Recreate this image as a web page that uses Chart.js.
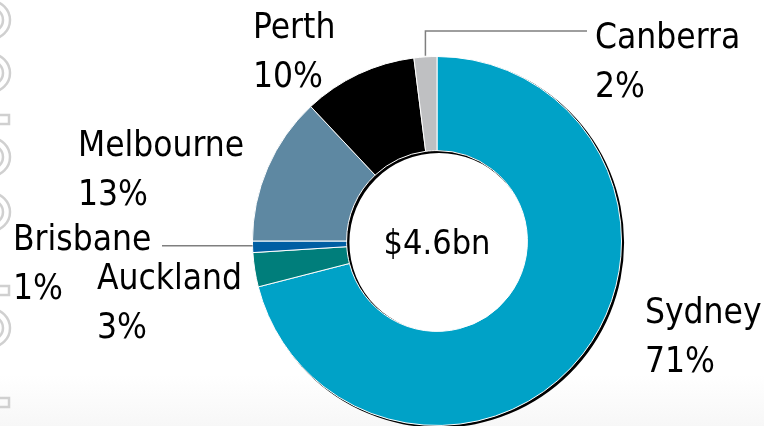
<!DOCTYPE html>
<html><head><meta charset="utf-8">
<script src="https://cdn.jsdelivr.net/npm/chart.js@4/dist/chart.umd.min.js"></script>
<style>
html,body{margin:0;padding:0;width:764px;height:426px;overflow:hidden;
background:linear-gradient(#ffffff 0px,#ffffff 375px,#f7f7f7 426px);}
canvas{display:block}
</style>
</head><body>
<canvas id="c" width="764" height="426"></canvas>
<script>
// ---- data ----
const categories = ['Sydney', 'Auckland', 'Brisbane', 'Melbourne', 'Perth', 'Canberra'];
const shares = [71, 3, 1, 13, 10, 2];
const totalLabel = '$4.6bn';
const colors = ['#00A2C7', '#007E7B', '#005EA3', '#5E88A2', '#000000', '#BFC0C2'];

// ---- label layout (left x, first-line baseline) ----
const labelLayout = {
  Sydney: [645, 323],
  Auckland: [97, 289],
  Brisbane: [13, 250],
  Melbourne: [78, 156],
  Perth: [253, 38],
  Canberra: [595, 48]
};
const FONT = '"DejaVu Sans Condensed", "DejaVu Sans", sans-serif';
const FONT_SIZE = 35;
const LINE_GAP = 49;

const decoPlugin = {
  id: 'deco',
  beforeDraw(chart) {
    const ctx = chart.ctx;
    ctx.save();
    ctx.strokeStyle = '#d0d0d0';
    ctx.lineWidth = 2.5;
    [20, 73, 157, 212, 328].forEach(cy => {
      [19, 12, 5].forEach(r => {
        ctx.beginPath(); ctx.arc(-9, cy, r, 0, Math.PI * 2); ctx.stroke();
      });
    });
    [115, 286, 398].forEach(ry => { ctx.strokeRect(-5, ry, 14, 9); });
    ctx.restore();
  }
};

const shadowPlugin = {
  id: 'ringShadow',
  beforeDatasetsDraw(chart) {
    const a = chart.getDatasetMeta(0).data[0];
    if (!a) return;
    const ctx = chart.ctx;
    ctx.save();
    ctx.fillStyle = '#000';
    ctx.beginPath();
    ctx.arc(a.x + 2, a.y + 1.6, a.outerRadius + 0.6, 0, Math.PI * 2);
    ctx.arc(a.x + 2, a.y + 1.6, a.innerRadius - 0.8, 0, Math.PI * 2, true);
    ctx.fill();
    ctx.restore();
  }
};

const labelPlugin = {
  id: 'labels',
  afterDatasetsDraw(chart) {
    const ctx = chart.ctx;
    const meta = chart.getDatasetMeta(0);
    ctx.save();
    // leader lines
    ctx.strokeStyle = '#7f7f7f';
    ctx.lineWidth = 1.5;
    categories.forEach((name, i) => {
      const arc = meta.data[i];
      const mid = (arc.startAngle + arc.endAngle) / 2;
      const px = arc.x + Math.cos(mid) * arc.outerRadius;
      const py = arc.y + Math.sin(mid) * arc.outerRadius;
      if (name === 'Brisbane') {
        ctx.beginPath(); ctx.moveTo(162, py - 1); ctx.lineTo(px, py - 1); ctx.stroke();
      }
      if (name === 'Canberra') {
        ctx.beginPath(); ctx.moveTo(px, py - 1); ctx.lineTo(px, 31); ctx.lineTo(587, 31); ctx.stroke();
      }
    });
    // texts
    ctx.fillStyle = '#000';
    ctx.font = FONT_SIZE + 'px ' + FONT;
    ctx.textAlign = 'left';
    ctx.textBaseline = 'alphabetic';
    categories.forEach((name, i) => {
      const [lx, ly] = labelLayout[name];
      ctx.fillText(name, lx, ly);
      ctx.fillText(shares[i] + '%', lx, ly + LINE_GAP);
    });
    const a0 = meta.data[0];
    ctx.font = '34px ' + FONT;
    ctx.textAlign = 'center';
    ctx.textBaseline = 'alphabetic';
    ctx.fillText(totalLabel, a0.x, a0.y + 13);
    ctx.restore();
  }
};

new Chart(document.getElementById('c'), {
  type: 'doughnut',
  data: {
    labels: categories,
    datasets: [{
      data: shares,
      backgroundColor: colors,
      borderColor: '#ffffff',
      borderWidth: 1
    }]
  },
  options: {
    responsive: false,
    animation: false,
    cutout: '49%',
    layout: { padding: { left: 252, right: 142, top: 56, bottom: 0 } },
    plugins: { legend: { display: false }, tooltip: { enabled: false } }
  },
  plugins: [decoPlugin, shadowPlugin, labelPlugin]
});
</script>
</body></html>
